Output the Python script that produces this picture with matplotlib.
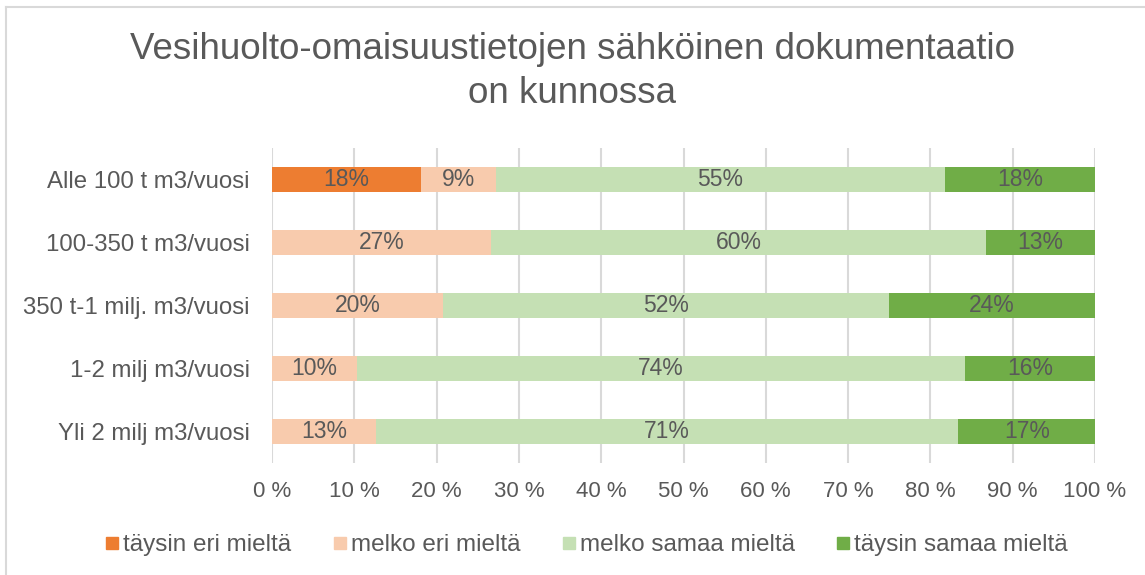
import matplotlib

matplotlib.use("Agg")
import matplotlib.pyplot as plt
from matplotlib.lines import Line2D
import numpy as np

categories = [
    "Alle 100 t m3/vuosi",
    "100-350 t m3/vuosi",
    "350 t-1 milj. m3/vuosi",
    "1-2 milj m3/vuosi",
    "Yli 2 milj m3/vuosi",
]
series_names = ["täysin eri mieltä", "melko eri mieltä", "melko samaa mieltä", "täysin samaa mieltä"]
taysin_eri = [18.1, 0, 0, 0, 0]
melko_eri = [9.1, 26.6, 20.0, 10.3, 12.6]
melko_samaa = [54.6, 60.2, 52.0, 73.9, 70.8]
taysin_samaa = [18.2, 13.2, 24.0, 15.8, 16.6]
colors = ["#ED7D31", "#F8CBAD", "#C5E0B4", "#70AD47"]
xticks = [0, 10, 20, 30, 40, 50, 60, 70, 80, 90, 100]

plt.rcParams["font.family"] = ["Liberation Sans", "DejaVu Sans"]
text_color = "#595959"
grid_color = "#D9D9D9"

fig = plt.figure(figsize=(11.45, 5.75), dpi=100)
ax = fig.add_axes([272 / 1145, 1 - 463 / 575, 823 / 1145, (463 - 148) / 575])

data = np.array([taysin_eri, melko_eri, melko_samaa, taysin_samaa], dtype=float)
shares = data / data.sum(axis=0) * 100  # 100 % stacked
y = np.arange(len(categories))
left = np.zeros(len(categories))
for i, name in enumerate(series_names):
    ax.barh(y, shares[i], left=left, height=0.4, color=colors[i], label=name, zorder=3)
    for j in range(len(categories)):
        if data[i, j] > 0:
            ax.text(left[j] + shares[i, j] / 2, y[j], f"{data[i, j]:.0f}%",
                    ha="center", va="center", fontsize=16.5, color=text_color, zorder=4)
    left += shares[i]

ax.set_xlim(0, 100)
ax.set_ylim(len(categories) - 0.5, -0.5)
ax.set_yticks(y)
ax.set_yticklabels(categories)
ax.set_xticks(xticks)
ax.set_xticklabels([f"{t} %" for t in xticks])
ax.tick_params(axis="both", length=0, labelcolor=text_color)
ax.tick_params(axis="x", labelsize=16, pad=13)
ax.tick_params(axis="y", labelsize=17.3, pad=16)
ax.grid(axis="x", color=grid_color, lw=1.5, zorder=0)
for s in ax.spines.values():
    s.set_visible(False)

fig.suptitle("Vesihuolto-omaisuustietojen sähköinen dokumentaatio\non kunnossa",
             y=1 - 32 / 575, fontsize=26.5, color=text_color, linespacing=1.35)

handles = [Line2D([], [], marker="s", ls="", markersize=8.5, color=c) for c in colors]
fig.legend(handles, series_names, loc="center", bbox_to_anchor=(0.511, 1 - 545 / 575),
           ncol=4, frameon=False, fontsize=17.5, labelcolor=text_color,
           handletextpad=0.05, columnspacing=1.6, handlelength=0.8)

# light frame around the chart (top and left edges visible)
fig.add_artist(Line2D([6 / 1145, 6 / 1145], [0, 1 - 7 / 575], color=grid_color, lw=1.5))
fig.add_artist(Line2D([6 / 1145, 1], [1 - 7 / 575, 1 - 7 / 575], color=grid_color, lw=1.5))

fig.savefig("out.png", dpi=100)
